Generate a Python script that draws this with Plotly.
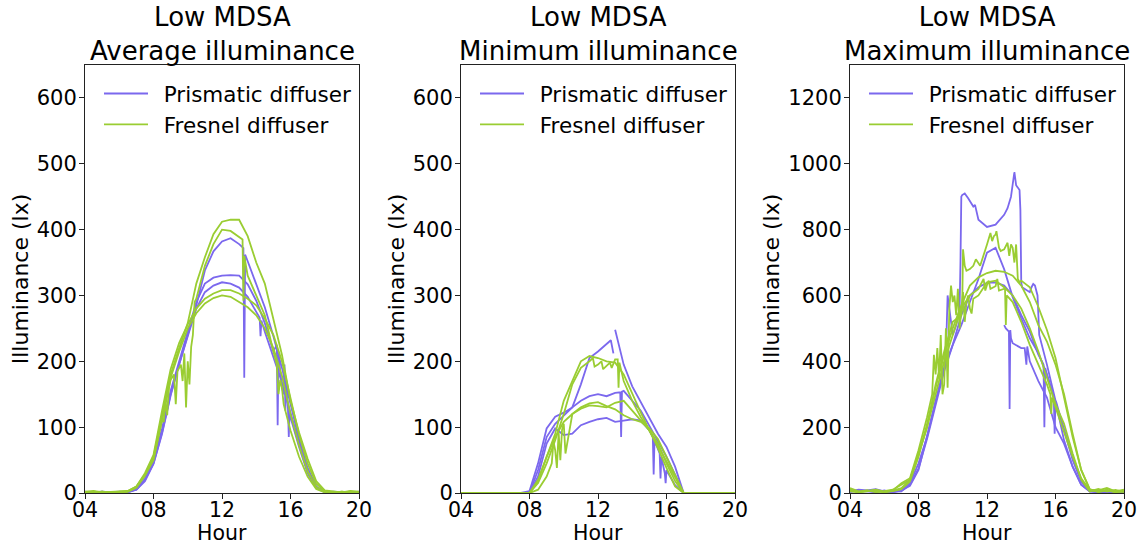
import plotly.graph_objects as go

# Half-hour sampling grid shared by all daily profiles (hour of day)
HOURS = [4.0, 4.5, 5.0, 5.5, 6.0, 6.5, 7.0, 7.5, 8.0, 8.5, 9.0, 9.5, 10.0, 10.5,
         11.0, 11.5, 12.0, 12.5, 13.0, 13.5, 14.0, 14.5, 15.0, 15.5, 16.0, 16.5,
         17.0, 17.5, 18.0, 18.5, 19.0, 19.5, 20.0]

HOUR_TICKS = [4, 8, 12, 16, 20]
HOUR_LABELS = ["04", "08", "12", "16", "20"]

# ---------------- Average illuminance (lx) ----------------
AVG_PRISM_1 = [2, 0, 2, 1, 0, 1, 5, 20, 45, 92, 150, 195, 240, 285, 338, 367,
               382, 387, 378, 352, 318, 282, 238, 190, 135, 82, 38, 10, 2, 1, 0, 1, 2]
AVG_PRISM_1_XH = [13.25, 13.3, 13.35]
AVG_PRISM_1_XV = [372, 175, 362]
AVG_PRISM_2 = [1, 2, 0, 1, 2, 1, 6, 22, 48, 98, 155, 200, 245, 290, 318, 327,
               330, 331, 330, 317, 292, 258, 215, 160, 115, 70, 30, 8, 1, 2, 1, 0, 1]
AVG_PRISM_2_XH = [15.2, 15.25, 15.3, 15.6, 15.65, 15.7, 15.75, 15.85, 15.9, 15.95]
AVG_PRISM_2_XV = [225, 103, 210, 150, 195, 125, 170, 130, 85, 125]
AVG_PRISM_3 = [0, 1, 2, 0, 1, 2, 5, 18, 44, 90, 148, 196, 238, 280, 305, 315,
               320, 318, 312, 298, 275, 245, 208, 168, 122, 75, 32, 9, 2, 0, 1, 2, 0]
AVG_PRISM_3_XH = [14.2, 14.25, 14.3]
AVG_PRISM_3_XV = [266, 238, 262]

AVG_FRES_1 = [2, 3, 1, 2, 2, 3, 10, 28, 55, 118, 180, 220, 258, 318, 358, 393,
              412, 415, 415, 390, 350, 318, 262, 210, 140, 92, 52, 18, 4, 2, 1, 3, 2]
AVG_FRES_2 = [1, 0, 2, 1, 0, 2, 8, 26, 52, 110, 172, 190, 200, 295, 345, 378,
              400, 398, 388, 330, 300, 270, 215, 160, 95, 55, 25, 6, 1, 0, 2, 1, 0]
AVG_FRES_2_XH = [9.2, 9.3, 9.4, 9.6, 9.7, 9.8, 9.9, 10.1, 10.2, 10.3, 10.4,
                 13.2, 13.25, 13.3, 15.2, 15.3, 15.4, 15.6]
AVG_FRES_2_XV = [180, 135, 185, 195, 170, 212, 130, 165, 222, 240, 290,
                 385, 292, 360, 195, 150, 172, 135]
AVG_FRES_3 = [0, 2, 1, 1, 2, 3, 10, 30, 58, 125, 188, 228, 256, 280, 295, 303,
              308, 308, 303, 295, 285, 265, 240, 200, 145, 88, 45, 14, 3, 1, 2, 0, 1]
AVG_FRES_4 = [1, 1, 2, 0, 1, 2, 9, 27, 50, 112, 175, 215, 250, 273, 288, 296,
              300, 298, 290, 282, 270, 250, 220, 178, 120, 72, 33, 9, 2, 1, 1, 2, 1]
AVG_FRES_4_XH = [8.6, 8.7, 8.8, 8.9]
AVG_FRES_4_XV = [108, 140, 118, 160]

# ---------------- Minimum illuminance (lx) ----------------
MIN_PRISM_1 = [0, 0, 0, 0, 0, 0, 0, 0, 3, 45, 98, 116, 122, 130, 165, 205,
               215, 226, 248, 195, 162, 138, 112, 90, 70, 40, 0, 0, 0, 0, 0, 0, 0]
MIN_PRISM_1_XH = [12.75, 12.9, 12.95]
MIN_PRISM_1_XV = [232, 212, None]
MIN_PRISM_2 = [0, 0, 0, 0, 0, 0, 0, 0, 0, 35, 85, 105, 118, 130, 140, 147,
               150, 147, 152, 155, 140, 125, 102, 78, 55, 28, 0, 0, 0, 0, 0, 0, 0]
MIN_PRISM_2_XH = [13.3, 13.35, 13.4]
MIN_PRISM_2_XV = [153, 85, 154]
MIN_PRISM_3 = [0, 0, 0, 0, 0, 0, 0, 0, 0, 25, 75, 98, 88, 90, 103, 108,
               112, 114, 108, 110, 112, 110, 95, 65, 35, 12, 0, 0, 0, 0, 0, 0, 0]
MIN_PRISM_3_XH = [15.2, 15.25, 15.3, 15.6, 15.65, 15.7, 15.9, 15.95, 16.05]
MIN_PRISM_3_XV = [85, 28, 80, 60, 22, 55, 30, 15, 32]

MIN_FRES_1 = [0, 0, 0, 0, 0, 0, 0, 0, 0, 20, 55, 90, 140, 170, 200, 208,
              205, 200, 198, 180, 150, 122, 95, 68, 38, 10, 0, 0, 0, 0, 0, 0, 0]
MIN_FRES_2 = [0, 0, 0, 0, 0, 0, 0, 0, 0, 15, 45, 80, 120, 165, 190, 200,
              195, 193, 203, 170, 140, 115, 95, 75, 45, 18, 0, 0, 0, 0, 0, 0, 0]
MIN_FRES_2_XH = [11.7, 11.8, 12.2, 12.3, 12.7, 12.8, 13.15, 13.2, 13.25]
MIN_FRES_2_XV = [205, 192, 200, 188, 198, 190, 203, 160, 198]
MIN_FRES_3 = [0, 0, 0, 0, 0, 0, 0, 0, 0, 18, 55, 85, 108, 120, 130, 136,
              138, 132, 127, 118, 112, 108, 98, 82, 55, 28, 0, 0, 0, 0, 0, 0, 0]
MIN_FRES_4 = [0, 0, 0, 0, 0, 0, 0, 0, 0, 5, 25, 65, 105, 120, 128, 133,
              132, 130, 137, 140, 125, 110, 95, 72, 48, 22, 0, 0, 0, 0, 0, 0, 0]
MIN_FRES_4_XH = [9.3, 9.4, 9.6, 9.7, 9.8, 9.9, 10.1]
MIN_FRES_4_XV = [45, 78, 38, 92, 50, 96, 60]

# ---------------- Maximum illuminance (lx) ----------------
MAX_PRISM_1 = [5, 10, 8, 12, 5, 3, 10, 30, 90, 170, 280, 380, 480, 900, 885, 830,
               808, 815, 845, 940, 640, 610, 540, 390, 280, 160, 80, 25, 5, 3, 0, 5, 2]
MAX_PRISM_1_XH = [9.6, 9.7, 9.8, 10.2, 10.4, 10.45, 10.55, 10.7, 10.9, 11.2, 11.3,
                  13.2, 13.4, 13.55, 13.6, 13.7, 13.9, 13.95, 14.05, 14.6, 14.7,
                  14.8, 14.95, 15.05]
MAX_PRISM_1_XV = [420, 600, 560, 510, 560, 700, 905, 910, 895, 870, 875,
                  865, 900, 960, 975, 935, 920, 860, 625, 625, 635,
                  630, 600, 480]
MAX_PRISM_2 = [3, 8, 5, 2, 8, 2, 8, 22, 70, 175, 280, 380, 450, 510, 580, 650,
               730, 745, 680, 595, 530, 470, 425, 360, 275, 195, 110, 40, 8, 3, 5, 2, 4]
MAX_PRISM_3 = [10, 4, 6, 9, 3, 5, 5, 25, 75, 165, 270, 370, 450, 540, 600, 625,
               638, 640, 630, 600, 540, 490, 420, 360, 280, 190, 100, 35, 5, 8, 2, 6, 3]
MAX_PRISM_3_XH = [15.3, 15.35, 15.4, 15.9, 15.95, 16.05]
MAX_PRISM_3_XV = [390, 200, 380, 290, 180, 275]
MAX_PRISM_4 = [None, None, None, None, None, None, None, None, None, None, None,
               None, None, None, None, None, None, None,
               510, 455, 440, 400, 340, 290, 200, 150, 80, 25, 5, 2, 3, 0, 2]
MAX_PRISM_4_XH = [13.1, 13.28, 13.32, 13.36, 13.4, 14.2, 14.3, 14.35]
MAX_PRISM_4_XV = [500, 490, 255, 495, 470, 440, 390, 445]

MAX_FRES_1 = [15, 5, 8, 3, 6, 10, 25, 40, 120, 200, 330, 430, 520, 540, 680, 700,
              755, 785, 740, 745, 645, 625, 565, 495, 410, 290, 170, 70, 10, 8, 15, 5, 10]
MAX_FRES_1_XH = [10.55, 10.6, 10.7, 10.8, 11.2, 11.35, 11.6, 12.2, 12.3, 12.4,
                 12.55, 12.7, 12.8, 13.2, 13.3, 13.4, 13.6, 13.7, 13.8, 13.9]
MAX_FRES_1_XV = [560, 740, 690, 675, 690, 710, 690, 790, 765, 780,
                 795, 745, 735, 760, 720, 755, 700, 755, 650, 640]
MAX_FRES_2 = [5, 2, 8, 4, 3, 6, 12, 35, 110, 210, 320, 420, 500, 570, 630, 655,
              668, 675, 672, 660, 630, 580, 510, 460, 390, 300, 180, 70, 12, 3, 8, 2, 6]
MAX_FRES_3 = [8, 3, 5, 10, 2, 7, 15, 40, 115, 200, 300, 400, 480, 560, 600, 620,
              632, 628, 620, 580, 520, 450, 390, 330, 260, 180, 110, 45, 8, 4, 10, 3, 5]
MAX_FRES_3_XH = [11.8, 11.9, 12.1, 12.2, 12.6, 12.7, 13.05, 13.1, 13.15, 15.7, 15.75, 15.8]
MAX_FRES_3_XV = [650, 615, 645, 620, 650, 615, 625, 510, 600, 300, 240, 290]
MAX_FRES_4 = [10, 3, 6, 10, 4, 8, 30, 45, 130, 230, 360, 330, 580, 570, 560, 600,
              640, 645, 625, 600, 560, 500, 430, 350, 270, 210, 120, 40, 5, 12, 4, 9, 3]
MAX_FRES_4_XH = [8.8, 8.9, 9.1, 9.2, 9.3, 9.4, 9.6, 9.7, 9.8, 9.9, 10.1, 10.2,
                 10.3, 10.4, 10.6, 10.7, 10.8, 10.9, 11.1, 11.2]
MAX_FRES_4_XV = [300, 420, 440, 350, 480, 300, 500, 320, 560, 630, 600, 540,
                 620, 500, 610, 520, 580, 600, 545, 590]

PANEL_TITLES = ["Low MDSA<br>Average illuminance",
                "Low MDSA<br>Minimum illuminance",
                "Low MDSA<br>Maximum illuminance"]
SERIES_NAMES = ["Prismatic diffuser", "Fresnel diffuser"]
X_TITLE = "Hour"
Y_TITLE = "Illuminance (lx)"
Y_MAX = [650, 650, 1300]
Y_TICKS = [[0, 100, 200, 300, 400, 500, 600],
           [0, 100, 200, 300, 400, 500, 600],
           [0, 200, 400, 600, 800, 1000, 1200]]

PRISM_COLOR = "#7B68EE"
FRES_COLOR = "#9ACD32"
FONT = "DejaVu Sans"


def profile(values, extra_h=(), extra_v=()):
    """Combine the half-hour samples with the finer readings of one day."""
    pts = list(zip(HOURS, values)) + list(zip(extra_h, extra_v))
    pts.sort(key=lambda p: p[0])
    return [p[0] for p in pts], [p[1] for p in pts]


panels = [
    (
        [profile(AVG_PRISM_1, AVG_PRISM_1_XH, AVG_PRISM_1_XV),
         profile(AVG_PRISM_2, AVG_PRISM_2_XH, AVG_PRISM_2_XV),
         profile(AVG_PRISM_3, AVG_PRISM_3_XH, AVG_PRISM_3_XV)],
        [profile(AVG_FRES_1),
         profile(AVG_FRES_2, AVG_FRES_2_XH, AVG_FRES_2_XV),
         profile(AVG_FRES_3),
         profile(AVG_FRES_4, AVG_FRES_4_XH, AVG_FRES_4_XV)],
    ),
    (
        [profile(MIN_PRISM_1, MIN_PRISM_1_XH, MIN_PRISM_1_XV),
         profile(MIN_PRISM_2, MIN_PRISM_2_XH, MIN_PRISM_2_XV),
         profile(MIN_PRISM_3, MIN_PRISM_3_XH, MIN_PRISM_3_XV)],
        [profile(MIN_FRES_1),
         profile(MIN_FRES_2, MIN_FRES_2_XH, MIN_FRES_2_XV),
         profile(MIN_FRES_3),
         profile(MIN_FRES_4, MIN_FRES_4_XH, MIN_FRES_4_XV)],
    ),
    (
        [profile(MAX_PRISM_1, MAX_PRISM_1_XH, MAX_PRISM_1_XV),
         profile(MAX_PRISM_2),
         profile(MAX_PRISM_3, MAX_PRISM_3_XH, MAX_PRISM_3_XV),
         profile(MAX_PRISM_4, MAX_PRISM_4_XH, MAX_PRISM_4_XV)],
        [profile(MAX_FRES_1, MAX_FRES_1_XH, MAX_FRES_1_XV),
         profile(MAX_FRES_2),
         profile(MAX_FRES_3, MAX_FRES_3_XH, MAX_FRES_3_XV),
         profile(MAX_FRES_4, MAX_FRES_4_XH, MAX_FRES_4_XV)],
    ),
]

# Figure geometry (pixels)
W, H = 1141, 546
M_L, M_R, M_T, M_B = 85, 17, 65, 53
PLOT_W = W - M_L - M_R
PLOT_H = H - M_T - M_B
PANEL_LEFT = [85, 461, 850]
PANEL_W = 274

fig = go.Figure()
layout = {}
annotations = []

for i, (prism_days, fres_days) in enumerate(panels):
    sfx = "" if i == 0 else str(i + 1)
    legend_id = "legend" + sfx
    x0 = (PANEL_LEFT[i] - M_L) / PLOT_W
    x1 = (PANEL_LEFT[i] + PANEL_W - M_L) / PLOT_W

    for name, color, days in ((SERIES_NAMES[0], PRISM_COLOR, prism_days),
                              (SERIES_NAMES[1], FRES_COLOR, fres_days)):
        for k, (hx, hy) in enumerate(days):
            fig.add_trace(go.Scatter(
                x=hx, y=hy, mode="lines",
                # en space keeps the label clear of the line sample
                name="\u2002" + name,
                line=dict(color=color, width=1.8),
                connectgaps=False,
                legendgroup=f"{name}{i}",
                showlegend=(k == 0),
                legend=legend_id,
                xaxis="x" + sfx, yaxis="y" + sfx,
            ))

    axis_common = dict(
        showline=True, mirror=True, linecolor="#222222", linewidth=1,
        ticks="outside", ticklen=5, tickwidth=1, tickcolor="#222222",
        showgrid=False, zeroline=False, automargin=False,
        tickfont=dict(family=FONT, size=21, color="black"),
    )
    layout["xaxis" + sfx] = dict(
        axis_common, domain=[x0, x1], range=[4, 20],
        tickvals=HOUR_TICKS, ticktext=HOUR_LABELS,
        ticklabelstandoff=-7,
        tickfont=dict(family=FONT, size=20.5, color="black"),
        anchor="y" + sfx,
    )
    layout["yaxis" + sfx] = dict(
        axis_common, domain=[0, 1], range=[0, Y_MAX[i]],
        tickvals=Y_TICKS[i], anchor="x" + sfx,
        ticklabelstandoff=-2,
        title=dict(text=Y_TITLE, standoff=2,
                   font=dict(family=FONT, size=22, color="black")),
    )
    layout[legend_id] = dict(
        x=(PANEL_LEFT[i] + 14 - M_L) / PLOT_W, y=1 - 8 / PLOT_H,
        xanchor="left", yanchor="top",
        bgcolor="rgba(0,0,0,0)", borderwidth=0,
        font=dict(family=FONT, size=21.5, color="black"),
        tracegroupgap=0, itemwidth=44,
    )
    annotations.append(dict(
        text=PANEL_TITLES[i], xref="paper", yref="paper",
        x=(x0 + x1) / 2, y=1, xanchor="center", yanchor="bottom",
        yshift=-3, showarrow=False,
        font=dict(family=FONT, size=26, color="black"),
    ))
    # x-axis title placed just below the tick labels
    annotations.append(dict(
        text=X_TITLE, xref="paper", yref="paper",
        x=(x0 + x1) / 2, y=0, xanchor="center", yanchor="middle",
        yshift=-40, showarrow=False, borderpad=0,
        font=dict(family=FONT, size=20.5, color="black"),
    ))

fig.update_layout(
    width=W, height=H,
    margin=dict(l=M_L, r=M_R, t=M_T, b=M_B),
    paper_bgcolor="white", plot_bgcolor="white",
    font=dict(family=FONT, color="black"),
    annotations=annotations,
    **layout,
)

fig.write_html("out.html")
